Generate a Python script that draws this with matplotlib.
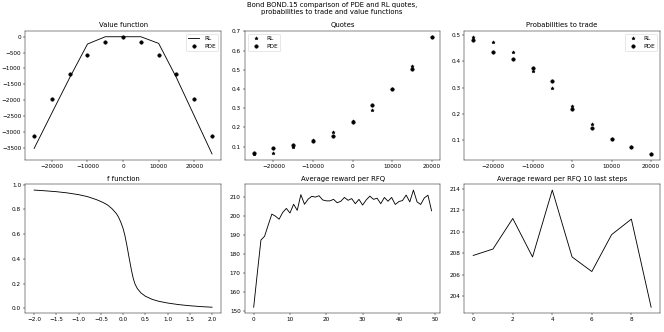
import numpy as np
import matplotlib
matplotlib.use("Agg")
import matplotlib.pyplot as plt

# inventories (value function grid)
q_value = [-25000, -20000, -15000, -10000, -5000, 0, 5000, 10000, 15000, 20000, 25000]
value_rl = [-3520, -2400, -1290, -230, 0, 0, 0, -210, -1290, -2490, -3690]
value_pde = [-3130, -1970, -1170, -570, -170, 0, -170, -570, -1170, -1970, -3130]

# inventories (quotes / probabilities grid)
q_quotes = [-25000, -20000, -15000, -10000, -5000, 0, 5000, 10000, 15000, 20000]
quotes_rl = [0.062, 0.069, 0.096, 0.134, 0.174, 0.233, 0.293, 0.398, 0.517, 0.672]
quotes_pde = [0.066, 0.091, 0.110, 0.131, 0.157, 0.228, 0.315, 0.402, 0.502, 0.672]

proba_rl = [0.494, 0.475, 0.435, 0.362, 0.299, 0.228, 0.162, 0.102, 0.075, 0.047]
proba_pde = [0.480, 0.437, 0.409, 0.374, 0.325, 0.220, 0.146, 0.102, 0.073, 0.047]

# f function
f_x = [-2.0, -1.75, -1.5, -1.25, -1.0, -0.8, -0.6, -0.45, -0.35, -0.25, -0.15,
       -0.1, -0.05, 0.0, 0.04, 0.09, 0.14, 0.19, 0.23, 0.27, 0.32, 0.4, 0.5,
       0.65, 0.8, 1.0, 1.25, 1.5, 1.75, 2.0]
f_y = [0.955, 0.949, 0.942, 0.932, 0.918, 0.902, 0.878, 0.855, 0.835, 0.805, 0.765,
       0.735, 0.695, 0.645, 0.59, 0.50, 0.40, 0.305, 0.24, 0.195, 0.16, 0.125, 0.098,
       0.073, 0.057, 0.043, 0.030, 0.021, 0.014, 0.009]

# average reward per RFQ over 50 steps
avg_reward = [152.0, 170.0, 187.5, 189.5, 195.4, 201.2, 200.1, 198.5, 202.1, 204.2,
              201.8, 206.4, 203.2, 211.5, 206.4, 209.1, 210.6, 210.2, 210.9, 208.7,
              208.2, 208.2, 209.0, 207.2, 208.0, 210.0, 208.5, 209.4, 206.7, 209.0,
              206.0, 208.7, 210.7, 209.0, 209.6, 206.7, 210.0, 208.0, 210.0, 206.3,
              207.8, 208.4, 211.25, 207.66, 213.9, 207.66, 206.3, 209.74, 211.19, 202.97]
last_reward = avg_reward[-10:]

fig, axes = plt.subplots(2, 3, figsize=(16, 8), dpi=41.5)
fig.subplots_adjust(left=0.038, right=0.994, top=0.907, bottom=0.057,
                    wspace=0.122, hspace=0.19)
fig.suptitle("Bond BOND.15 comparison of PDE and RL quotes,\n"
             "probabilities to trade and value functions", y=0.995)

ax = axes[0, 0]
ax.plot(q_value, value_rl, "k-", label="RL")
ax.plot(q_value, value_pde, "ko", label="PDE")
ax.set_title("Value function")
ax.legend(loc="upper right")

ax = axes[0, 1]
ax.plot(q_quotes, quotes_rl, "k*", label="RL")
ax.plot(q_quotes, quotes_pde, "ko", label="PDE")
ax.set_title("Quotes")
ax.legend(loc="upper left")

ax = axes[0, 2]
ax.plot(q_quotes, proba_rl, "k*", label="RL")
ax.plot(q_quotes, proba_pde, "ko", label="PDE")
ax.set_title("Probabilities to trade")
ax.legend(loc="upper right")

ax = axes[1, 0]
ax.plot(f_x, f_y, "k-")
ax.set_title("f function")

ax = axes[1, 1]
ax.plot(np.arange(len(avg_reward)), avg_reward, "k-")
ax.set_title("Average reward per RFQ")

ax = axes[1, 2]
ax.plot(np.arange(len(last_reward)), last_reward, "k-")
ax.set_title("Average reward per RFQ 10 last steps")

fig.savefig("out.png", dpi=41.5)
